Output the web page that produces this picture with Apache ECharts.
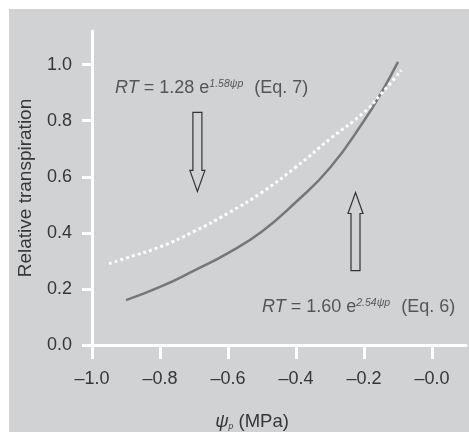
<!DOCTYPE html>
<html>
<head>
<meta charset="utf-8">
<script src="https://cdn.jsdelivr.net/npm/echarts@6/dist/echarts.min.js"></script>
<style>
  html, body { margin: 0; padding: 0; background: #fff; }
  #chart { width: 469px; height: 436px; }
</style>
</head>
<body>
<div id="chart"></div>
<script>
// ==================== DATA ====================
// solid curve (Eq. 6)
const psiEq6 = [-0.9, -0.8, -0.7, -0.6, -0.5, -0.4, -0.3, -0.2, -0.15, -0.1];
const rtEq6 = [0.16, 0.207, 0.265, 0.328, 0.405, 0.51, 0.632, 0.8, 0.898, 1.01];
// dotted white curve (Eq. 7)
const psiEq7 = [-0.95, -0.9, -0.8, -0.7, -0.6, -0.5, -0.4, -0.3, -0.2, -0.15, -0.09];
const rtEq7 = [0.29, 0.31, 0.35, 0.405, 0.47, 0.545, 0.635, 0.735, 0.83, 0.895, 0.98];
// tick labels
const xTicks = [-1.0, -0.8, -0.6, -0.4, -0.2, 0.0];
const yTicks = [0.0, 0.2, 0.4, 0.6, 0.8, 1.0];
// hollow arrows: [psi, rt at tail, rt at tip]
const arrows = [[-0.69, 0.83, 0.548], [-0.225, 0.265, 0.544]];
// equation labels: [psi, rt] of left edge
const eqPos = [[-0.932, 0.917], [-0.5, 0.136]];
const eqText = [
  '{i|RT} = 1.28 e{sup|1.58ψp}  (Eq. 7)',
  '{i|RT} = 1.60 e{sup|2.54ψp}  (Eq. 6)'
];

const chart = echarts.init(document.getElementById('chart'));
const textC = '#363636', axisC = '#fff';
const fmt = v => '\u2013' + Math.abs(v).toFixed(1);

chart.setOption({
  backgroundColor: '#fff',
  animation: false,
  textStyle: { fontFamily: 'Liberation Sans, Arial, sans-serif' },
  graphic: [{ type: 'rect', z: -10, shape: { x: 9, y: 9, width: 460, height: 423 }, style: { fill: '#d1d2d4' } }],
  grid: { left: 92, right: 3, top: 31, bottom: 87 },
  xAxis: {
    type: 'value', min: -1, max: 0.1,
    name: '{g|ψ}{sub|p} (MPa)', nameLocation: 'middle', nameGap: 67,
    nameTextStyle: {
      color: textC, fontSize: 18.5, padding: [0, 54, 0, 0],
      rich: { g: { fontSize: 18.5, fontStyle: 'italic', color: textC }, sub: { fontSize: 8.5, fontStyle: 'italic', color: textC, verticalAlign: 'bottom', padding: [6, 0, 0, 0] } }
    },
    axisLine: { onZero: false, lineStyle: { color: axisC, width: 3 } },
    axisTick: { lineStyle: { color: axisC, width: 3 }, length: 14, customValues: xTicks },
    axisLabel: { color: textC, fontSize: 18, margin: 25, customValues: xTicks, formatter: fmt },
    splitLine: { show: false }
  },
  yAxis: {
    type: 'value', min: 0, max: 1.12,
    name: 'Relative transpiration', nameLocation: 'middle', nameGap: 57,
    nameTextStyle: { color: textC, fontSize: 19 },
    axisLine: { show: true, onZero: false, lineStyle: { color: axisC, width: 3 } },
    axisTick: { show: true, lineStyle: { color: axisC, width: 3 }, length: 10, customValues: yTicks },
    axisLabel: { color: textC, fontSize: 18, margin: 20, customValues: yTicks, formatter: v => v.toFixed(1) },
    splitLine: { show: false }
  },
  series: [
    {
      name: 'Eq. 6', type: 'line', smooth: true, symbol: 'none',
      data: psiEq6.map((x, i) => [x, rtEq6[i]]),
      lineStyle: { color: '#777', width: 2.5 }
    },
    {
      name: 'Eq. 7', type: 'line', smooth: true, symbol: 'none',
      data: psiEq7.map((x, i) => [x, rtEq7[i]]),
      lineStyle: { color: '#fff', width: 3, type: [3, 3] }
    },
    {
      type: 'custom', silent: true, data: arrows,
      renderItem: (params, api) => {
        const t = api.coord([api.value(0), api.value(1)]);
        const h = api.coord([api.value(0), api.value(2)]);
        const d = h[1] > t[1] ? 1 : -1, x = t[0], hb = h[1] - d * 21;
        return {
          type: 'polygon',
          shape: { points: [[x - 4.5, t[1]], [x + 4.5, t[1]], [x + 4.5, hb], [x + 7.5, hb], [x, h[1]], [x - 7.5, hb], [x - 4.5, hb]] },
          style: { fill: 'none', stroke: '#333', lineWidth: 1.2 }
        };
      }
    },
    {
      type: 'scatter', symbolSize: 0, silent: true,
      data: eqPos.map((p, i) => ({ value: p, label: { formatter: eqText[i] } })),
      label: {
        show: true, position: 'right', distance: 0, color: textC, fontSize: 18,
        rich: {
          i: { fontSize: 18, fontStyle: 'italic', color: textC },
          sup: { fontSize: 10.5, fontStyle: 'italic', color: textC, verticalAlign: 'top', padding: [0, 1, 8, 0] }
        }
      }
    }
  ]
});
</script>
</body>
</html>
